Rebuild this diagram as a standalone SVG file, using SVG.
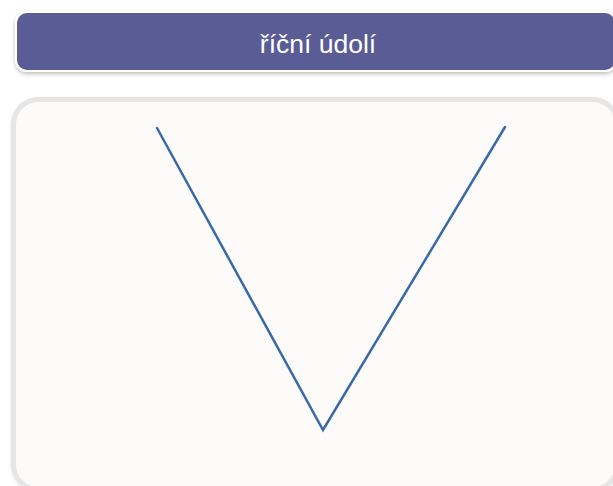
<svg xmlns="http://www.w3.org/2000/svg" width="613" height="486" viewBox="0 0 613 486">
  <defs>
    <filter id="sh" x="-5%" y="-20%" width="110%" height="150%">
      <feDropShadow dx="0" dy="2" stdDeviation="2" flood-color="#000" flood-opacity="0.25"/>
    </filter>
    <filter id="sh2" x="-5%" y="-5%" width="110%" height="110%">
      <feDropShadow dx="0" dy="1" stdDeviation="1.5" flood-color="#000" flood-opacity="0.12"/>
    </filter>
  </defs>
  <style>
    .title { fill: #5a5b96; stroke: #ffffff; stroke-width: 2; }
    .title-text { font-family: "Liberation Sans", Arial, sans-serif; font-size: 26.5px; fill: #ffffff; text-anchor: middle; }
    .panel { fill: #fcfbfa; stroke: #e6e6e6; stroke-width: 5; }
    .valley { fill: none; stroke: #3a69a8; stroke-width: 2.5; stroke-linejoin: miter; stroke-linecap: round; }
  </style>
  <rect width="613" height="486" fill="#ffffff"/>
  <g id="title">
    <rect class="title" x="16" y="12" width="600" height="59" rx="11" filter="url(#sh)"/>
    <text class="title-text" x="318" y="53">říční údolí</text>
  </g>
  <g id="panel">
    <rect class="panel" x="13.5" y="99.5" width="604" height="390" rx="25" filter="url(#sh2)"/>
  </g>
  <g id="connectors">
    <polyline class="valley" points="157,128 323,430 505,127"/>
  </g>
</svg>
